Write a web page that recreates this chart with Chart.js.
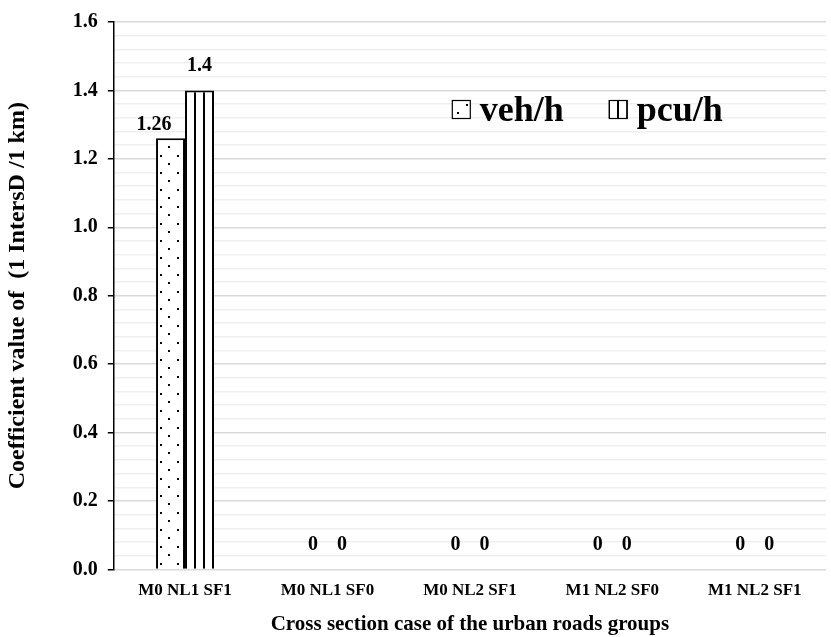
<!DOCTYPE html>
<html>
<head>
<meta charset="utf-8">
<script src="https://cdn.jsdelivr.net/npm/chart.js@4.4.1/dist/chart.umd.min.js"></script>
<style>
  body { margin: 0; background: #fff; }
  #wrap { width: 831px; height: 637px; }
</style>
</head>
<body>
<div id="wrap"><canvas id="myChart"></canvas></div>
<script>
var categories = ['M0 NL1 SF1', 'M0 NL1 SF0', 'M0 NL2 SF1', 'M1 NL2 SF0', 'M1 NL2 SF1'];
var vehValues = [1.26, 0, 0, 0, 0];
var pcuValues = [1.4, 0, 0, 0, 0];
var seriesNames = ['veh/h', 'pcu/h'];
var yTickLabels = ['0.0', '0.2', '0.4', '0.6', '0.8', '1.0', '1.2', '1.4', '1.6'];

var serif = "'Liberation Serif', 'Times New Roman', serif";

// dotted fill for veh/h
function dotPattern() {
    var c = document.createElement('canvas');
    c.width = 17; c.height = 17;
    var g = c.getContext('2d');
    g.fillStyle = '#fff';
    g.fillRect(0, 0, 17, 17);
    g.fillStyle = '#000';
    g.fillRect(7, 2, 2, 2);
    g.fillRect(15, 10, 2, 2);
    return g.createPattern(c, 'repeat');
}

// vertical stripes for pcu/h
function stripePattern() {
    var c = document.createElement('canvas');
    c.width = 9; c.height = 9;
    var g = c.getContext('2d');
    g.fillStyle = '#fff';
    g.fillRect(0, 0, 9, 9);
    g.fillStyle = '#000';
    g.fillRect(5, 0, 2, 9);
    return g.createPattern(c, 'repeat');
}

var fills = [dotPattern(), stripePattern()];

var valueLabels = {
    id: 'valueLabels',
    afterDatasetsDraw: function (chart) {
        var ctx = chart.ctx;
        ctx.save();
        ctx.font = 'bold 20px ' + serif;
        ctx.fillStyle = '#000';
        ctx.textBaseline = 'alphabetic';
        chart.data.datasets.forEach(function (ds, di) {
            var meta = chart.getDatasetMeta(di);
            meta.data.forEach(function (el, i) {
                var txt = String(ds.data[i]);
                var other = chart.getDatasetMeta(1 - di).data[i];
                // label would run into the taller neighbour bar -> tuck it left
                if (di === 0 && other && other.y < el.y - 10) {
                    ctx.textAlign = 'right';
                    ctx.fillText(txt, el.x + 1, el.y - 8);
                } else {
                    ctx.textAlign = 'center';
                    ctx.fillText(txt, el.x, el.y - 19);
                }
            });
        });
        ctx.restore();
    }
};

var boxLegend = {
    id: 'boxLegend',
    afterDraw: function (chart) {
        var ctx = chart.ctx;
        var a = chart.chartArea;
        var items = [
            { x: a.left + 338, name: seriesNames[0], fill: fills[0] },
            { x: a.left + 495, name: seriesNames[1], fill: fills[1] }
        ];
        ctx.save();
        ctx.font = 'bold 36px ' + serif;
        ctx.textBaseline = 'alphabetic';
        ctx.textAlign = 'left';
        items.forEach(function (it) {
            var top = 100;
            ctx.fillStyle = it.fill;
            ctx.fillRect(it.x, top, 18, 18);
            ctx.strokeStyle = '#000';
            ctx.lineWidth = 1.2;
            ctx.strokeRect(it.x + 0.5, top + 0.5, 18, 18);
            ctx.fillStyle = '#000';
            ctx.fillText(it.name, it.x + 28, top + 21);
        });
        ctx.restore();
    }
};

const ctx = document.getElementById('myChart');

new Chart(ctx, {
    type: 'bar',
    data: {
        labels: categories,
        datasets: [{
            label: seriesNames[0],
            data: vehValues,
            backgroundColor: fills[0],
            borderColor: '#000',
            borderWidth: 2
        }, {
            label: seriesNames[1],
            data: pcuValues,
            backgroundColor: fills[1],
            borderColor: '#000',
            borderWidth: 2
        }]
    },
    plugins: [valueLabels, boxLegend],
    options: {
        responsive: true,
        maintainAspectRatio: false,
        animation: false,
        datasets: {
            bar: { categoryPercentage: 0.407, barPercentage: 1 }
        },
        layout: { padding: { top: 10, right: 5, left: 0, bottom: 0 } },
        plugins: {
            legend: { display: false },
            tooltip: { enabled: false }
        },
        scales: {
            x: {
                grid: { display: false, drawTicks: false },
                border: { display: false },
                ticks: {
                    color: '#000',
                    font: { family: serif, size: 17, weight: 'bold' },
                    maxRotation: 0,
                    padding: 11
                },
                title: {
                    display: true,
                    text: 'Cross section case of the urban roads groups',
                    color: '#000',
                    font: { family: serif, size: 21, weight: 'bold' },
                    padding: { top: 0, bottom: 0 }
                }
            },
            y: {
                min: 0,
                max: 1.6,
                afterBuildTicks: function (axis) {
                    var t = [];
                    for (var i = 0; i <= 40; i++) t.push({ value: i * 0.04 });
                    axis.ticks = t;
                },
                grid: {
                    color: function (c) {
                        return c.index % 5 === 0 ? '#d9d9d9' : '#f0f0f0';
                    },
                    lineWidth: 1.5,
                    tickColor: function (c) {
                        return c.index % 5 === 0 ? '#000' : 'rgba(0,0,0,0)';
                    },
                    tickLength: 6
                },
                border: { display: true, color: '#000', width: 1.5 },
                ticks: {
                    autoSkip: false,
                    color: '#000',
                    padding: 10,
                    font: { family: serif, size: 20, weight: 'bold' },
                    callback: function (v, i) {
                        return i % 5 === 0 ? yTickLabels[i / 5] : '';
                    }
                },
                title: {
                    display: true,
                    text: 'Coefficient value of  (1 IntersD /1 km)',
                    color: '#000',
                    font: { family: serif, size: 24, weight: 'bold' },
                    padding: { top: 3, bottom: 31 }
                }
            }
        }
    }
});
</script>
</body>
</html>
